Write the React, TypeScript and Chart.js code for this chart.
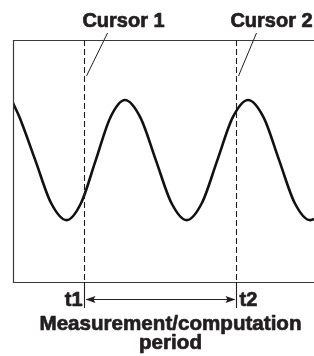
import React, { useEffect, useRef } from "react";
import { Chart, registerables } from "chart.js";

Chart.register(...registerables);

// time axis (arbitrary units, 0..10 across the screen)
const TIME = [0, 0.22, 0.74, 1.26, 1.78, 2.265, 2.75, 3.235, 3.72, 4.23, 4.745, 5.26, 5.77, 6.28, 6.79, 7.3, 7.81, 8.325, 8.84, 9.355, 9.87, 10];
const SIGNAL = [0.95, 0.71, 0, -0.71, -1, -0.71, 0, 0.71, 1, 0.71, 0, -0.71, -1, -0.71, 0, 0.71, 1, 0.71, 0, -0.71, -1, -0.98];
const CURSORS = [2.375, 7.4];
const CURSOR_LABELS = ["Cursor 1", "Cursor 2"];
const TICK_LABELS = ["t1", "t2"];
const PERIOD_LABEL = ["Measurement/computation", "period"];

const INK = "#231f20";
const FONT = 'bold 20px "Liberation Sans", Arial, sans-serif';

function heavyText(ctx: CanvasRenderingContext2D, s: string, x: number, y: number) {
  ctx.fillText(s, x, y);
  ctx.strokeText(s, x, y);
}

const overlay = {
  id: "overlay",
  afterDatasetsDraw(chart: any) {
    const { ctx, chartArea, scales } = chart;
    const { left, top, right, bottom } = chartArea;
    const x1 = Math.round(scales.x.getPixelForValue(CURSORS[0])) + 0.5;
    const x2 = Math.round(scales.x.getPixelForValue(CURSORS[1])) + 0.5;
    ctx.save();
    // frame (left, top, bottom)
    ctx.strokeStyle = "#3a3a3a";
    ctx.lineWidth = 1.2;
    ctx.beginPath();
    ctx.moveTo(right, top + 0.5);
    ctx.lineTo(left + 0.5, top + 0.5);
    ctx.lineTo(left + 0.5, bottom + 0.5);
    ctx.lineTo(right, bottom + 0.5);
    ctx.stroke();

    // cursors
    ctx.strokeStyle = INK;
    ctx.lineWidth = 1.1;
    [x1, x2].forEach((x) => {
      ctx.setLineDash([6, 3]);
      ctx.beginPath();
      ctx.moveTo(x, top);
      ctx.lineTo(x, bottom);
      ctx.stroke();
      ctx.setLineDash([]);
      ctx.beginPath();
      ctx.moveTo(x, bottom);
      ctx.lineTo(x, bottom + 26);
      ctx.stroke();
    });

    // cursor labels + leader lines
    ctx.lineWidth = 1;
    [x1, x2].forEach((x, i) => {
      const dx = i === 0 ? 23 : 20;
      ctx.beginPath();
      ctx.moveTo(x + dx, 33);
      ctx.lineTo(x + 2, 76);
      ctx.stroke();
    });
    ctx.fillStyle = INK;
    ctx.strokeStyle = INK;
    ctx.lineWidth = 0.7;
    ctx.lineJoin = "round";
    ctx.font = FONT;
    ctx.textBaseline = "alphabetic";
    ctx.textAlign = "center";
    heavyText(ctx, CURSOR_LABELS[0], x1 + 39, 27);
    heavyText(ctx, CURSOR_LABELS[1], x2 + 35, 27);

    // t1 / t2
    ctx.textAlign = "right";
    heavyText(ctx, TICK_LABELS[0], x1 - 2, 306);
    ctx.textAlign = "left";
    heavyText(ctx, TICK_LABELS[1], x2 + 3, 306);

    // double arrow
    const ay = 299.5;
    ctx.lineWidth = 1;
    ctx.beginPath();
    ctx.moveTo(x1 + 2, ay);
    ctx.lineTo(x2 - 2, ay);
    ctx.stroke();
    ctx.beginPath();
    ctx.moveTo(x1 + 1, ay);
    ctx.lineTo(x1 + 11, ay - 3.5);
    ctx.lineTo(x1 + 9, ay);
    ctx.lineTo(x1 + 11, ay + 3.5);
    ctx.closePath();
    ctx.fill();
    ctx.beginPath();
    ctx.moveTo(x2 - 1, ay);
    ctx.lineTo(x2 - 11, ay - 3.5);
    ctx.lineTo(x2 - 9, ay);
    ctx.lineTo(x2 - 11, ay + 3.5);
    ctx.closePath();
    ctx.fill();

    // period label
    ctx.lineWidth = 0.7;
    ctx.textAlign = "center";
    ctx.font = 'bold 20.6px "Liberation Sans", Arial, sans-serif';
    const cx = (x1 + x2) / 2 + 10;
    heavyText(ctx, PERIOD_LABEL[0], cx, 330);
    heavyText(ctx, PERIOD_LABEL[1], cx, 349);
    ctx.restore();
  },
};

export default function App() {
  const ref = useRef<HTMLCanvasElement>(null);
  useEffect(() => {
    if (!ref.current) return;
    const chart = new Chart(ref.current, {
      type: "line",
      data: {
        datasets: [
          {
            data: TIME.map((t, i) => ({ x: t, y: SIGNAL[i] })),
            borderColor: "#111",
            borderWidth: 2.6,
            pointRadius: 0,
            cubicInterpolationMode: "monotone",
            fill: false,
          },
        ],
      },
      options: {
        animation: false,
        responsive: false,
        maintainAspectRatio: false,
        events: [],
        layout: { padding: { left: 13, top: 40, right: 0, bottom: 74 } },
        plugins: { legend: { display: false }, tooltip: { enabled: false }, title: { display: false } },
        scales: {
          x: { type: "linear", min: 0, max: 10, display: false },
          y: { type: "linear", min: -2.03, max: 2, display: false },
        },
      },
      plugins: [overlay],
    });
    return () => chart.destroy();
  }, []);
  return (
    <div style={{ position: "absolute", left: 0, top: 0, width: 314, height: 356, background: "#fff" }}>
      <canvas ref={ref} width={314} height={356} style={{ display: "block", width: 314, height: 356 }} />
    </div>
  );
}
